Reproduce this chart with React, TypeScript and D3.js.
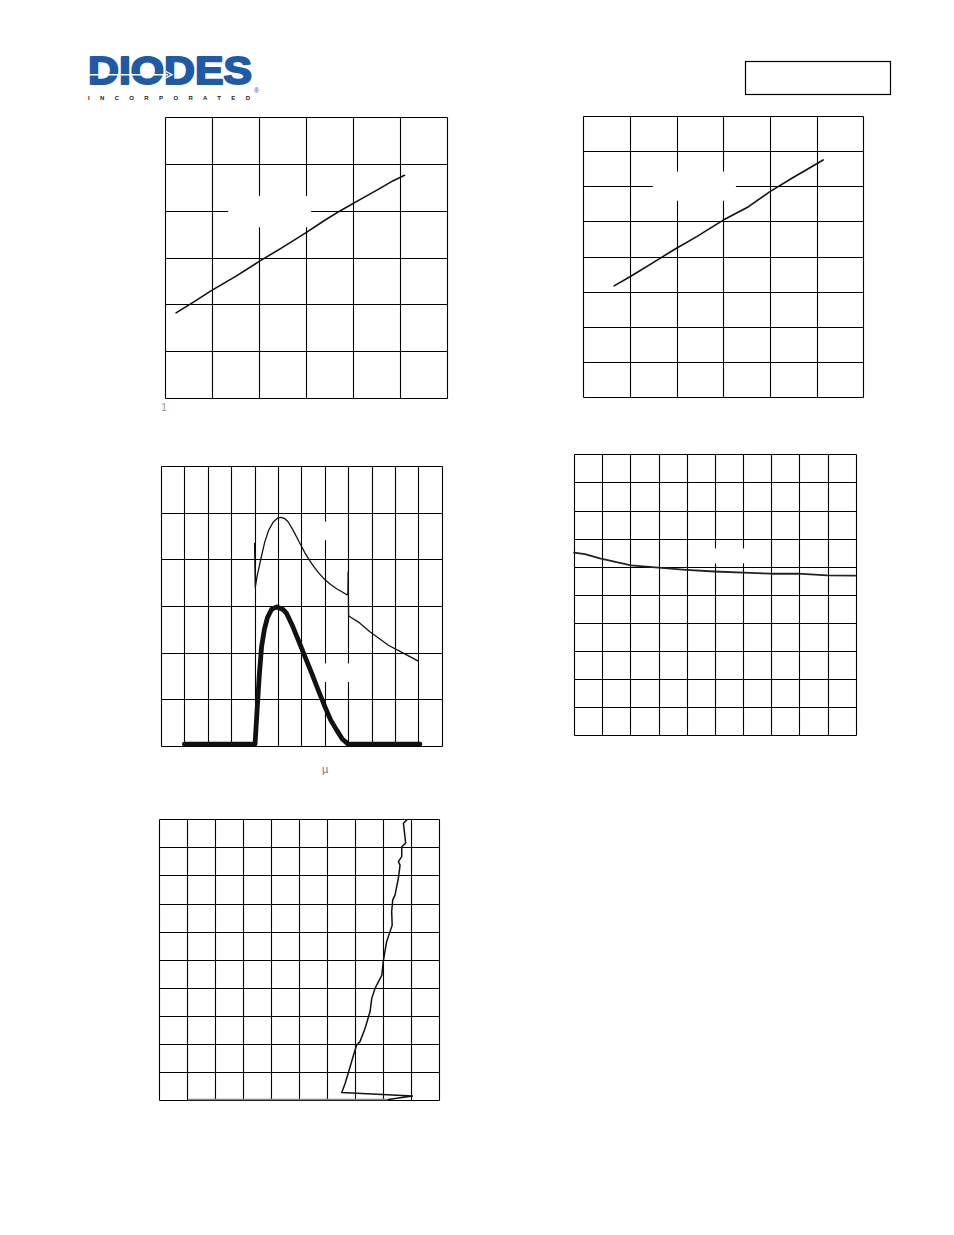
import React from "react";
import * as d3 from "d3";

// Panel 1 (top left) – grid units, 6 x 6
const p1X = [0.23, 0.6, 0.99, 1.5, 2.02, 2.5, 3.01, 3.4, 3.76, 4.15, 4.54, 4.85, 5.1];
const p1Y = [1.82, 2.05, 2.3, 2.6, 2.93, 3.22, 3.54, 3.8, 4.02, 4.24, 4.46, 4.64, 4.76];

// Panel 2 (top right) – 6 x 8
const p2X = [0.66, 1.0, 1.47, 1.96, 2.43, 3.0, 3.54, 4.0, 4.47, 5.14];
const p2Y = [3.17, 3.43, 3.81, 4.21, 4.57, 5.04, 5.42, 5.85, 6.23, 6.75];

// Panel 3 (middle left) – 12 x 6, thin and thick trace
const p3ThinX = [4.0, 4.03, 4.1, 4.2, 4.3, 4.44, 4.6, 4.8, 5.0, 5.13, 5.3, 5.44, 5.65, 5.87, 6.15, 6.44, 6.72, 7.01, 7.25, 7.51, 7.75, 7.94, 7.99, 8.0, 8.02, 8.11, 8.43, 8.93, 9.72, 10.4, 11.0];
const p3ThinY = [4.34, 3.4, 3.62, 3.85, 4.08, 4.38, 4.62, 4.8, 4.89, 4.9, 4.87, 4.8, 4.62, 4.41, 4.14, 3.91, 3.72, 3.56, 3.46, 3.37, 3.3, 3.24, 3.27, 3.73, 2.79, 2.76, 2.66, 2.45, 2.16, 1.98, 1.82];
const p3ThickX = [1.0, 4.02, 4.1, 4.2, 4.3, 4.42, 4.55, 4.73, 4.95, 5.2, 5.37, 5.6, 5.87, 6.15, 6.44, 6.72, 7.01, 7.25, 7.51, 7.75, 8.0, 11.07];
const p3ThickY = [0.04, 0.04, 0.7, 1.5, 2.13, 2.5, 2.75, 2.93, 2.98, 2.93, 2.84, 2.6, 2.27, 1.92, 1.56, 1.2, 0.84, 0.56, 0.34, 0.15, 0.04, 0.04];

// Panel 4 (middle right) – 10 x 10
const p4X = [0, 0.39, 0.92, 1.51, 2.03, 2.99, 3.98, 4.98, 6.01, 6.99, 7.96, 8.99, 9.98];
const p4Y = [6.5, 6.45, 6.3, 6.16, 6.05, 5.97, 5.89, 5.83, 5.79, 5.75, 5.75, 5.69, 5.68];

// Panel 5 (bottom left) – 10 x 10
const p5BaseX = [1.05, 8.18];
const p5BaseY = [0.02, 0.02];
const p5X = [8.18, 9.04, 6.52, 6.64, 6.75, 6.87, 7.05, 7.17, 7.35, 7.53, 7.59, 7.71, 7.95, 8.0, 8.12, 8.32, 8.3, 8.34, 8.42, 8.54, 8.6, 8.54, 8.66, 8.66, 8.8, 8.72, 8.84];
const p5Y = [0.02, 0.14, 0.27, 0.59, 0.95, 1.36, 1.96, 2.08, 2.55, 3.15, 3.62, 3.98, 4.45, 4.93, 5.64, 6.23, 6.71, 7.13, 7.3, 7.9, 8.37, 8.49, 8.67, 9.02, 9.15, 9.86, 9.98];

type Series = { xs: number[]; ys: number[]; width: number; color?: string };
type Mask = [number, number, number, number]; // x0, x1, y0, y1 in grid units

interface PanelProps {
  box: [number, number, number, number]; // left, right, top, bottom
  cols: number;
  rows: number;
  masks?: Mask[];
  series: Series[];
}

function Panel({ box, cols, rows, masks = [], series }: PanelProps) {
  const [left, right, top, bottom] = box;
  const x = d3.scaleLinear().domain([0, cols]).range([left, right]);
  const y = d3.scaleLinear().domain([0, rows]).range([bottom, top]);
  const snap = (v: number) => Math.round(v) + 0.5;

  const line = d3
    .line<[number, number]>()
    .x((d) => x(d[0]))
    .y((d) => y(d[1]))
    .curve(d3.curveLinear);

  return (
    <g>
      {d3.range(0, cols + 1).map((c) => (
        <line key={"v" + c} x1={snap(x(c))} x2={snap(x(c))} y1={snap(top)} y2={snap(bottom)} stroke="#000" strokeWidth={1.1} />
      ))}
      {d3.range(0, rows + 1).map((r) => (
        <line key={"h" + r} x1={snap(left)} x2={snap(right)} y1={snap(y(r))} y2={snap(y(r))} stroke="#000" strokeWidth={1.1} />
      ))}
      {/* label areas knocked out of the grid */}
      {masks.map((m, i) => (
        <rect key={"m" + i} x={x(m[0])} y={y(m[3])} width={x(m[1]) - x(m[0])} height={y(m[2]) - y(m[3])} fill="#fff" />
      ))}
      {series.map((s, i) => (
        <path
          key={"s" + i}
          d={line(s.xs.map((v, j) => [v, s.ys[j]] as [number, number])) || ""}
          fill="none"
          stroke={s.color || "#111"}
          strokeWidth={s.width}
          strokeLinejoin="round"
          strokeLinecap="round"
        />
      ))}
    </g>
  );
}

function Logo() {
  const blue = "#1f5aa6";
  return (
    <g>
      <text
        x={88}
        y={84}
        fontFamily="Liberation Sans, Arial, sans-serif"
        fontWeight="bold"
        fontSize={39}
        fill={blue}
        stroke={blue}
        strokeWidth={2}
        strokeLinejoin="round"
        textLength={164}
        lengthAdjust="spacingAndGlyphs"
      >
        DIODES
      </text>
      <line x1={89} x2={168} y1={74.7} y2={74.7} stroke="#fff" strokeWidth={1.4} />
      <path d="M166,71.5 L172,74.7 L166,77.9" fill="none" stroke="#fff" strokeWidth={1.4} />
      <text x={254} y={93} fontFamily="Liberation Sans, Arial, sans-serif" fontSize={7} fill={blue}>
        ®
      </text>
      <text
        x={88}
        y={100}
        fontFamily="Liberation Sans, Arial, sans-serif"
        fontWeight="bold"
        fontSize={6}
        fill="#222"
        textLength={162}
        lengthAdjust="spacing"
      >
        INCORPORATED
      </text>
    </g>
  );
}

export default function App() {
  return (
    <div style={{ position: "absolute", left: 0, top: 0 }}>
      <svg width={954} height={1235} style={{ display: "block", background: "#fff" }}>
        <Logo />
        <rect x={745.5} y={61.5} width={145} height={33} fill="none" stroke="#000" strokeWidth={1.2} />

        <Panel
          box={[165.3, 446.7, 117.3, 398]}
          cols={6}
          rows={6}
          masks={[[1.34, 3.11, 3.65, 4.32]]}
          series={[{ xs: p1X, ys: p1Y, width: 1.6 }]}
        />
        <text x={161} y={411} fontFamily="Liberation Sans, Arial, sans-serif" fontSize={11} fill="#999">
          1
        </text>

        <Panel
          box={[583.3, 863.3, 116, 397.3]}
          cols={6}
          rows={8}
          masks={[[1.49, 3.27, 5.59, 6.42]]}
          series={[{ xs: p2X, ys: p2Y, width: 1.6 }]}
        />

        <Panel
          box={[161, 441.7, 466, 746]}
          cols={12}
          rows={6}
          masks={[
            [6.4, 7.6, 4.41, 4.81],
            [6.3, 8.7, 1.37, 1.77],
          ]}
          series={[
            { xs: p3ThinX, ys: p3ThinY, width: 1.3 },
            { xs: p3ThickX, ys: p3ThickY, width: 4.8 },
          ]}
        />
        <text x={322} y={773} fontFamily="Liberation Sans, Arial, sans-serif" fontSize={11} fill="#777">
          µ
        </text>

        <Panel
          box={[574, 855.7, 454.3, 735.3]}
          cols={10}
          rows={10}
          masks={[[4.65, 6.32, 6.12, 6.65]]}
          series={[{ xs: p4X, ys: p4Y, width: 1.8, color: "#222" }]}
        />

        <Panel
          box={[159, 439.3, 819.3, 1100]}
          cols={10}
          rows={10}
          series={[
            { xs: p5BaseX, ys: p5BaseY, width: 1.4, color: "#888" },
            { xs: p5X, ys: p5Y, width: 1.5 },
          ]}
        />
      </svg>
    </div>
  );
}
